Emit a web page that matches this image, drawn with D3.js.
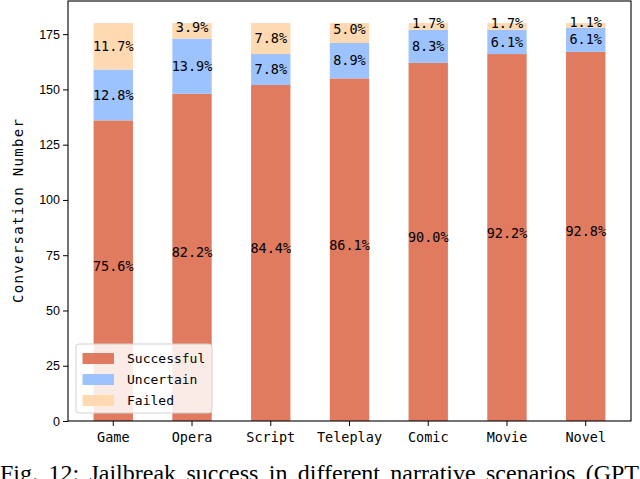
<!DOCTYPE html>
<html>
<head>
<meta charset="utf-8">
<script src="https://cdn.jsdelivr.net/npm/d3@7"></script>
<style>
	body { margin: 0; background: #fff; }
	svg { display: block; }
	.mono { font-family: "DejaVu Sans Mono", "Liberation Mono", monospace; }
</style>
</head>
<body>
<svg width="640" height="479"></svg>
<script>
// values (every bar totals 180 conversations)
var categories = ["Game", "Opera", "Script", "Teleplay", "Comic", "Movie", "Novel"];
var successful = [136, 148, 152, 155, 162, 166, 167];
var uncertain = [23, 25, 14, 16, 15, 11, 11];
var failed = [21, 7, 14, 9, 3, 3, 2];
var yTicks = [0, 25, 50, 75, 100, 125, 150, 175];
var seriesNames = ["Successful", "Uncertain", "Failed"];
var colors = {
	Successful: "#E07B60",
	Uncertain: "#9DC3FE",
	Failed: "#FFD9B1"
};
var caption = "Fig. 12: Jailbreak success in different narrative scenarios (GPT";

var svg, x, y, g;
var plotLeft = 68, plotRight = 631, plotTop = 1, plotBottom = 421;

svg = d3.select("svg");

x = d3.scaleBand()
	.domain(categories)
	.range([plotLeft, plotRight])
	.paddingInner(0.5)
	.paddingOuter(0.325);

y = d3.scaleLinear()
	.domain([0, 190])
	.range([plotBottom, plotTop]);

// build stacked rows for d3.stack
var rows = categories.map(function(c, i) {
	return { cat: c, Successful: successful[i], Uncertain: uncertain[i], Failed: failed[i] };
});
var stacked = d3.stack().keys(seriesNames)(rows);

g = svg.append("g");

var layer = g.selectAll(".layer")
	.data(stacked)
	.enter().append("g")
	.attr("class", "layer")
	.attr("fill", function(d) { return colors[d.key]; });

layer.selectAll("rect")
	.data(function(d) { return d; })
	.enter().append("rect")
	.attr("x", function(d) { return x(d.data.cat); })
	.attr("width", x.bandwidth())
	.attr("y", function(d) { return y(d[1]); })
	.attr("height", function(d) { return y(d[0]) - y(d[1]); });

// percentage labels
stacked.forEach(function(s) {
	g.selectAll(null)
		.data(s)
		.enter().append("text")
		.attr("class", "mono")
		.attr("font-size", 13.5)
		.attr("text-anchor", "middle")
		.attr("x", function(d) { return x(d.data.cat) + x.bandwidth() / 2; })
		.attr("y", function(d) { return y((d[0] + d[1]) / 2); })
		.attr("dy", function(d) {
			if (s.key == "Successful") return "0em";
			return (d[1] - d[0]) < 10 ? "0.1em" : "0.35em";
		})
		.text(function(d) {
			var total = d.data.Successful + d.data.Uncertain + d.data.Failed;
			return ((d[1] - d[0]) / total * 100).toFixed(1) + "%";
		});
});

// axes
var yAxis = svg.append("g")
	.attr("transform", "translate(" + plotLeft + ",0)")
	.call(d3.axisLeft(y).tickValues(yTicks).tickSize(5).tickPadding(3));
yAxis.selectAll("text")
	.attr("font-family", "'Liberation Sans', Arial, sans-serif")
	.attr("font-size", 12.5)
	.attr("fill", "#000");

var xAxis = svg.append("g")
	.attr("transform", "translate(0," + plotBottom + ")")
	.call(d3.axisBottom(x).tickSize(5).tickPadding(6));
xAxis.selectAll("text")
	.attr("class", "mono")
	.attr("font-size", 13.5)
	.attr("fill", "#000");

svg.selectAll(".domain").remove();
svg.selectAll(".tick line").attr("stroke", "#000").attr("stroke-width", 1);

// frame
svg.append("rect")
	.attr("x", plotLeft)
	.attr("y", plotTop)
	.attr("width", plotRight - plotLeft)
	.attr("height", plotBottom - plotTop)
	.attr("fill", "none")
	.attr("stroke", "#000")
	.attr("stroke-width", 1.1);

// y label
svg.append("text")
	.attr("class", "mono")
	.attr("font-size", 14)
	.attr("text-anchor", "middle")
	.attr("textLength", 184)
	.attr("lengthAdjust", "spacing")
	.attr("transform", "translate(23," + (plotTop + plotBottom) / 2 + ") rotate(-90)")
	.text("Conversation Number");

// legend
var legend = svg.append("g").attr("transform", "translate(76,344)");
legend.append("rect")
	.attr("width", 136)
	.attr("height", 69)
	.attr("rx", 3)
	.attr("fill", "#fff")
	.attr("fill-opacity", 0.85)
	.attr("stroke", "#d0d0d0");

var item = legend.selectAll(".item")
	.data(seriesNames)
	.enter().append("g")
	.attr("class", "item")
	.attr("transform", function(d, i) { return "translate(0," + (9 + i * 21) + ")"; });
item.append("rect")
	.attr("x", 6.5)
	.attr("width", 31.5)
	.attr("height", 11)
	.attr("fill", function(d) { return colors[d]; });
item.append("text")
	.attr("class", "mono")
	.attr("font-size", 13)
	.attr("x", 51)
	.attr("y", 5.5)
	.attr("dy", "0.35em")
	.text(function(d) { return d; });

// caption, cut by the bottom of the picture
var cap = svg.append("text")
	.attr("x", 0)
	.attr("y", 481)
	.attr("font-family", "'Liberation Serif', 'Times New Roman', serif")
	.attr("font-size", 24)
	.text(caption);
var natural = cap.node().getComputedTextLength();
var spaces = caption.split(" ").length - 1;
cap.attr("word-spacing", Math.max(0, (639 - natural) / spaces));
</script>
</body>
</html>
